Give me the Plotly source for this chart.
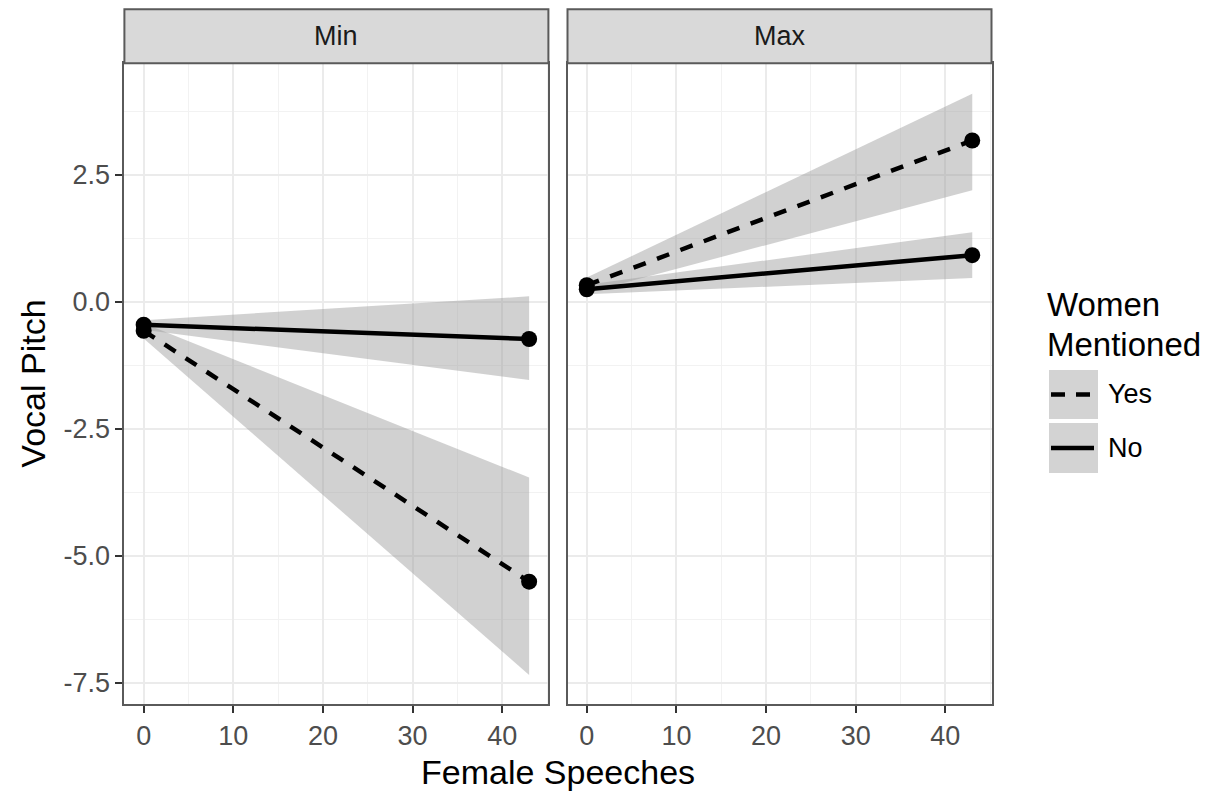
import plotly.graph_objects as go

# ---- data ----
speeches = [0, 43]
panels = ["Min", "Max"]
groups = ["Yes", "No"]

min_yes_fit = [-0.57, -5.51]
min_yes_lo = [-0.72, -7.35]
min_yes_hi = [-0.42, -3.46]
min_no_fit = [-0.45, -0.73]
min_no_lo = [-0.55, -1.54]
min_no_hi = [-0.36, 0.11]

max_yes_fit = [0.33, 3.18]
max_yes_lo = [0.18, 2.20]
max_yes_hi = [0.48, 4.10]
max_no_fit = [0.25, 0.92]
max_no_lo = [0.15, 0.47]
max_no_hi = [0.34, 1.37]

x_ticks = [0, 10, 20, 30, 40]
y_ticks = [-7.5, -5.0, -2.5, 0.0, 2.5]
y_ticklabels = ["-7.5", "-5.0", "-2.5", "0.0", "2.5"]

W, H = 1217, 794
FONT = "Liberation Sans, Arial, Helvetica, sans-serif"
RIBBON = "rgba(153,153,153,0.45)"
DASH = "13px,12px"

def px(x):
    return x / W

def py(y):
    return 1 - y / H

fig = go.Figure()

data = {
    "Min": {"Yes": (min_yes_fit, min_yes_lo, min_yes_hi), "No": (min_no_fit, min_no_lo, min_no_hi)},
    "Max": {"Yes": (max_yes_fit, max_yes_lo, max_yes_hi), "No": (max_no_fit, max_no_lo, max_no_hi)},
}
axes = {"Min": ("x", "y"), "Max": ("x2", "y2")}

for p in panels:
    xa, ya = axes[p]
    for g in groups:
        fit, lo, hi = data[p][g]
        fig.add_trace(go.Scatter(
            x=speeches + speeches[::-1], y=lo + hi[::-1],
            fill="toself", fillcolor=RIBBON, line=dict(width=0),
            mode="lines", hoverinfo="skip", showlegend=False, xaxis=xa, yaxis=ya))
    for g in groups:
        fit, lo, hi = data[p][g]
        fig.add_trace(go.Scatter(
            x=speeches, y=fit, mode="lines",
            line=dict(color="black", width=4.5, dash=DASH if g == "Yes" else "solid"),
            showlegend=False, xaxis=xa, yaxis=ya, name=g))
    for g in groups:
        fit, lo, hi = data[p][g]
        fig.add_trace(go.Scatter(
            x=speeches, y=fit, mode="markers",
            marker=dict(color="black", size=16),
            showlegend=False, xaxis=xa, yaxis=ya, name=g))

# panel geometry (pixels)
L1, R1 = 124.4, 548.4
L2, R2 = 567.5, 991.5
TOP, BOT = 63.3, 704.0
STRIP_TOP = 9.3

TICKFONT = dict(family=FONT, size=27, color="#4d4d4d")

common_x = dict(range=[-2.15, 45.15], tickmode="array", tickvals=x_ticks,
                ticks="outside", ticklen=7, tickwidth=2, tickcolor="#333333",
                tickfont=TICKFONT,
                showgrid=True, gridcolor="#ebebeb", gridwidth=2,
                minor=dict(dtick=5, tick0=0, showgrid=True, gridcolor="#f2f2f2", gridwidth=1),
                showline=True, mirror=True, linecolor="#5a5a5a", linewidth=2,
                zeroline=False)
common_y = dict(range=[-7.92, 4.70], tickmode="array", tickvals=y_ticks,
                showgrid=True, gridcolor="#ebebeb", gridwidth=2,
                minor=dict(dtick=1.25, tick0=-7.5, showgrid=True, gridcolor="#f2f2f2", gridwidth=1),
                showline=True, mirror=True, linecolor="#5a5a5a", linewidth=2,
                zeroline=False)

fig.update_layout(
    width=W, height=H,
    margin=dict(l=0, r=0, t=0, b=0),
    paper_bgcolor="white", plot_bgcolor="white",
    showlegend=False,
    xaxis=dict(common_x, domain=[px(L1), px(R1)], anchor="y"),
    xaxis2=dict(common_x, domain=[px(L2), px(R2)], anchor="y2"),
    yaxis=dict(common_y, domain=[py(BOT), py(TOP)], anchor="x",
               ticktext=y_ticklabels, ticks="outside", ticklen=7, tickwidth=2,
               tickcolor="#333333", tickfont=TICKFONT),
    yaxis2=dict(common_y, domain=[py(BOT), py(TOP)], anchor="x2",
                showticklabels=False, ticks=""),
)

shapes = []
annotations = []
# strips
for (l, r), name in zip([(L1, R1), (L2, R2)], panels):
    shapes.append(dict(type="rect", xref="paper", yref="paper",
                       x0=px(l), x1=px(r), y0=py(TOP), y1=py(STRIP_TOP),
                       fillcolor="#d9d9d9", line=dict(color="#5a5a5a", width=2)))
    annotations.append(dict(text=name, xref="paper", yref="paper",
                            x=px((l + r) / 2), y=py((TOP + STRIP_TOP) / 2),
                            showarrow=False, xanchor="center", yanchor="middle",
                            font=dict(family=FONT, size=27, color="#1a1a1a")))

# axis titles
annotations.append(dict(text="Female Speeches", xref="paper", yref="paper",
                        x=px((L1 + R2) / 2), y=py(772), showarrow=False,
                        xanchor="center", yanchor="middle",
                        font=dict(family=FONT, size=34, color="black")))
annotations.append(dict(text="Vocal Pitch", xref="paper", yref="paper",
                        x=px(33), y=py((TOP + BOT) / 2), showarrow=False, textangle=-90,
                        xanchor="center", yanchor="middle",
                        font=dict(family=FONT, size=34, color="black")))

# legend
for line_text, ly in [("Women", 305), ("Mentioned", 344)]:
    annotations.append(dict(text=line_text, xref="paper", yref="paper",
                            x=px(1045), y=py(ly), showarrow=False, align="left",
                            xanchor="left", yanchor="middle",
                            font=dict(family=FONT, size=33, color="black")))
key_boxes = [(370, 419), (423, 473)]
for (t, b), g in zip(key_boxes, groups):
    shapes.append(dict(type="rect", xref="paper", yref="paper",
                       x0=px(1049), x1=px(1098), y0=py(b), y1=py(t),
                       fillcolor="#d3d3d3", line=dict(width=0)))
    cy = (t + b) / 2
    shapes.append(dict(type="line", xref="paper", yref="paper",
                       x0=px(1051), x1=px(1094), y0=py(cy), y1=py(cy),
                       line=dict(color="black", width=4.5,
                                 dash="14px,11px" if g == "Yes" else "solid")))
    annotations.append(dict(text=g, xref="paper", yref="paper",
                            x=px(1106), y=py(cy), showarrow=False,
                            xanchor="left", yanchor="middle",
                            font=dict(family=FONT, size=27, color="black")))

fig.update_layout(shapes=shapes, annotations=annotations)
fig.write_html("out.html",
               config={"displayModeBar": False},
               post_script="document.body.style.margin='0';document.body.style.overflow='hidden';")
